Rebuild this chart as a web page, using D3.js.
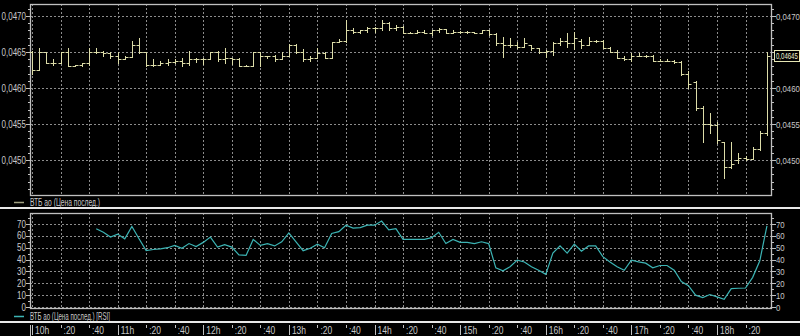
<!DOCTYPE html>
<html>
<head>
<meta charset="utf-8">
<script src="https://cdn.jsdelivr.net/npm/d3@7"></script>
<style>
  body { margin: 0; background: #000; }
  svg { display: block; }
  text { font-family: "Liberation Sans", Arial, sans-serif; font-size: 10px; fill: #c8c8c8; }
</style>
</head>
<body>
<svg id="chart" width="800" height="336"></svg>
<script>
// ---------------- Дані: 5-хвилинні бари ВТБ ----------------
const startTime = new Date(2000, 0, 1, 10, 0);
const barMinutes = 5;

const open = [
  0.04650, 0.04625, 0.04650, 0.04635, 0.04635, 0.04650, 0.04630, 0.04632, 0.04635, 0.04650,
  0.04650, 0.04648, 0.04645, 0.04640, 0.04643, 0.04660, 0.04650, 0.04632, 0.04632, 0.04635,
  0.04636, 0.04638, 0.04635, 0.04640, 0.04640, 0.04640, 0.04650, 0.04640, 0.04642, 0.04640,
  0.04631, 0.04631, 0.04650, 0.04644, 0.04644, 0.04640, 0.04645, 0.04660, 0.04650, 0.04640,
  0.04642, 0.04648, 0.04642, 0.04664, 0.04665, 0.04680, 0.04678, 0.04680, 0.04683, 0.04683,
  0.04690, 0.04683, 0.04685, 0.04677, 0.04677, 0.04678, 0.04677, 0.04680, 0.04682, 0.04677,
  0.04678, 0.04678, 0.04678, 0.04677, 0.04680, 0.04675, 0.04662, 0.04660, 0.04660, 0.04657,
  0.04660, 0.04655, 0.04650, 0.04652, 0.04662, 0.04665, 0.04662, 0.04665, 0.04660, 0.04665,
  0.04665, 0.04655, 0.04650, 0.04642, 0.04640, 0.04645, 0.04645, 0.04645, 0.04638, 0.04638,
  0.04638, 0.04636, 0.04620, 0.04608, 0.04572, 0.04550, 0.04548, 0.04525, 0.04490, 0.04500,
  0.04503, 0.04502, 0.04515, 0.04538
];
const high = [
  0.04652, 0.04655, 0.04650, 0.04640, 0.04650, 0.04655, 0.04632, 0.04635, 0.04655, 0.04655,
  0.04652, 0.04650, 0.04650, 0.04645, 0.04665, 0.04670, 0.04650, 0.04640, 0.04638, 0.04640,
  0.04640, 0.04642, 0.04652, 0.04642, 0.04642, 0.04650, 0.04652, 0.04655, 0.04642, 0.04641,
  0.04632, 0.04650, 0.04650, 0.04645, 0.04646, 0.04650, 0.04661, 0.04661, 0.04654, 0.04644,
  0.04655, 0.04650, 0.04664, 0.04668, 0.04694, 0.04683, 0.04680, 0.04685, 0.04685, 0.04694,
  0.04691, 0.04688, 0.04686, 0.04678, 0.04680, 0.04680, 0.04681, 0.04683, 0.04682, 0.04680,
  0.04679, 0.04679, 0.04678, 0.04681, 0.04681, 0.04676, 0.04671, 0.04670, 0.04664, 0.04670,
  0.04660, 0.04655, 0.04653, 0.04664, 0.04670, 0.04676, 0.04678, 0.04668, 0.04671, 0.04667,
  0.04667, 0.04657, 0.04653, 0.04644, 0.04648, 0.04648, 0.04646, 0.04646, 0.04640, 0.04640,
  0.04639, 0.04638, 0.04623, 0.04610, 0.04575, 0.04565, 0.04553, 0.04525, 0.04525, 0.04510,
  0.04505, 0.04518, 0.04540, 0.04650
];
const low = [
  0.04620, 0.04625, 0.04635, 0.04632, 0.04635, 0.04630, 0.04630, 0.04630, 0.04632, 0.04648,
  0.04645, 0.04642, 0.04635, 0.04640, 0.04643, 0.04648, 0.04630, 0.04630, 0.04632, 0.04632,
  0.04635, 0.04630, 0.04632, 0.04636, 0.04634, 0.04640, 0.04638, 0.04635, 0.04634, 0.04630,
  0.04630, 0.04630, 0.04630, 0.04642, 0.04638, 0.04640, 0.04645, 0.04648, 0.04638, 0.04637,
  0.04642, 0.04641, 0.04642, 0.04664, 0.04664, 0.04676, 0.04677, 0.04678, 0.04678, 0.04681,
  0.04681, 0.04681, 0.04676, 0.04676, 0.04676, 0.04676, 0.04674, 0.04678, 0.04676, 0.04676,
  0.04677, 0.04677, 0.04676, 0.04676, 0.04674, 0.04660, 0.04643, 0.04657, 0.04655, 0.04657,
  0.04653, 0.04649, 0.04643, 0.04646, 0.04660, 0.04657, 0.04654, 0.04655, 0.04660, 0.04664,
  0.04655, 0.04650, 0.04641, 0.04639, 0.04637, 0.04644, 0.04643, 0.04637, 0.04637, 0.04637,
  0.04635, 0.04618, 0.04600, 0.04570, 0.04525, 0.04537, 0.04524, 0.04475, 0.04489, 0.04496,
  0.04500, 0.04502, 0.04514, 0.04535
];
const close = [
  0.04625, 0.04650, 0.04635, 0.04635, 0.04650, 0.04630, 0.04632, 0.04635, 0.04650, 0.04650,
  0.04648, 0.04645, 0.04640, 0.04643, 0.04660, 0.04650, 0.04632, 0.04632, 0.04635, 0.04636,
  0.04638, 0.04635, 0.04640, 0.04640, 0.04640, 0.04650, 0.04640, 0.04642, 0.04640, 0.04631,
  0.04631, 0.04650, 0.04644, 0.04644, 0.04640, 0.04645, 0.04660, 0.04650, 0.04640, 0.04642,
  0.04648, 0.04642, 0.04664, 0.04665, 0.04680, 0.04678, 0.04680, 0.04683, 0.04683, 0.04690,
  0.04683, 0.04685, 0.04677, 0.04677, 0.04678, 0.04677, 0.04680, 0.04682, 0.04677, 0.04678,
  0.04678, 0.04678, 0.04677, 0.04680, 0.04675, 0.04662, 0.04660, 0.04660, 0.04657, 0.04662,
  0.04655, 0.04650, 0.04652, 0.04662, 0.04665, 0.04662, 0.04670, 0.04660, 0.04665, 0.04665,
  0.04655, 0.04650, 0.04642, 0.04640, 0.04645, 0.04645, 0.04645, 0.04638, 0.04638, 0.04638,
  0.04636, 0.04620, 0.04605, 0.04572, 0.04550, 0.04548, 0.04528, 0.04490, 0.04495, 0.04503,
  0.04502, 0.04515, 0.04538, 0.04645
];

// RSI (перші бари без значення)
const rsi = [
  null, null, null, null, null, null, null, null, null, 66,
  63, 59, 61.5, 57.5, 68, 57.5, 47.5, 48.5, 49, 50,
  52, 49.5, 53.5, 51, 54.5, 59, 50.5, 52.5, 50.5, 44,
  43.5, 57, 52, 53.5, 51.5, 55, 62.5, 55, 47.5, 49.5,
  53, 50, 62, 63.5, 69, 66.5, 67, 69, 69, 72.5,
  65, 66, 57, 57, 57, 57, 58.5, 63, 53.5, 57,
  54.5, 54.5, 53.5, 55, 53.5, 33, 30.5, 34, 39.5, 38,
  34, 31, 27.5, 45.5, 51.5, 45.5, 53, 47, 51.5, 51.5,
  42.5, 38, 34, 31, 39.5, 38, 37, 33, 35, 35,
  31, 21.5, 18, 10, 8, 10.5, 8.5, 6.5, 15.5, 15.8,
  16, 25, 39, 68.5
];

const priceTicks = [0.0450, 0.0455, 0.0460, 0.0465, 0.0470];
const rsiTicks = [0, 10, 20, 30, 40, 50, 60, 70];
const lastPrice = 0.04645;
const legendPrice = "ВТБ ао (Цена послед.)";
const legendRsi = "ВТБ ао (Цена послед.) [RSI]";

// ---------------- Розмітка ----------------
const svg = d3.select("#chart");
const W = 800;
const left = 30, right = 771;
const top1 = 4, bottom1 = 195;
const top2 = 213, bottom2 = 308;

const barColor = "#dcdca8";
const rsiColor = "#3cb4b4";
const gridColor = "#8c8c8c";
const frameColor = "#c0c0c0";

const bars = open.map((o, i) => ({
  t: d3.timeMinute.offset(startTime, i * barMinutes),
  o, h: high[i], l: low[i], c: close[i], r: rsi[i]
}));

const x = d3.scaleTime()
  .domain([new Date(2000, 0, 1, 10, 0), new Date(2000, 0, 1, 18, 0)])
  .range([32, 717]);
const y = d3.scaleLinear().domain([0.0450, 0.0470]).range([160, 16]);
const yR = d3.scaleLinear().domain([0, 70]).range([307, 224]);

const timeTicks = d3.timeMinute.every(20).range(startTime, new Date(2000, 0, 1, 18, 21));
const fmtPrice = v => d3.format(".4f")(v).replace(".", ",");
const px = v => Math.round(v) + 0.5;

// стискання тексту по ширині (у вихіднику вузький системний шрифт)
function squeeze(sel, k) {
  sel.each(function () {
    const w = this.getComputedTextLength();
    d3.select(this).attr("textLength", w * k).attr("lengthAdjust", "spacingAndGlyphs");
  });
}

// ---------------- Сітка ----------------
function grid(yScale, ticks, y0, y1) {
  const g = svg.append("g")
    .attr("stroke", gridColor)
    .attr("stroke-dasharray", "2,2")
    .attr("stroke-width", 1);
  g.selectAll("line.h").data(ticks).enter().append("line")
    .attr("x1", left).attr("x2", right)
    .attr("y1", d => px(yScale(d))).attr("y2", d => px(yScale(d)));
  g.selectAll("line.v").data(timeTicks).enter().append("line")
    .attr("y1", y0).attr("y2", y1)
    .attr("x1", d => px(x(d))).attr("x2", d => px(x(d)));
}
grid(y, priceTicks, top1, bottom1);
grid(yR, rsiTicks, top2, bottom2);

// Рамки
[[top1, bottom1], [top2, bottom2]].forEach(([a, b]) => {
  svg.append("rect")
    .attr("x", left + 0.5).attr("y", a + 0.5)
    .attr("width", right - left).attr("height", b - a)
    .attr("fill", "none").attr("stroke", frameColor).attr("stroke-width", 1.3);
});

// ---------------- Осі Y ----------------
function yAxes(yScale, ticks, minorStep, fmt, y0, y1, hideRight) {
  const dom = yScale.domain();
  const minor = d3.range(dom[0] - 5 * minorStep, dom[1] + 5 * minorStep, minorStep)
    .filter(v => yScale(v) > y0 + 2 && yScale(v) < y1 - 2);
  const g = svg.append("g").attr("stroke", frameColor);
  g.selectAll("line.ml").data(minor).enter().append("line")
    .attr("x1", left - 2).attr("x2", left)
    .attr("y1", d => px(yScale(d))).attr("y2", d => px(yScale(d)));
  g.selectAll("line.mr").data(minor).enter().append("line")
    .attr("x1", right + 1).attr("x2", right + 3)
    .attr("y1", d => px(yScale(d))).attr("y2", d => px(yScale(d)));
  g.selectAll("line.tl").data(ticks).enter().append("line")
    .attr("x1", left - 4).attr("x2", left)
    .attr("y1", d => px(yScale(d))).attr("y2", d => px(yScale(d)));
  g.selectAll("line.tr").data(ticks).enter().append("line")
    .attr("x1", right + 1).attr("x2", right + 5)
    .attr("y1", d => px(yScale(d))).attr("y2", d => px(yScale(d)));
  const tl = svg.append("g").selectAll("text").data(ticks).enter().append("text")
    .attr("x", left - 4).attr("y", d => yScale(d) + 3.5)
    .attr("text-anchor", "end").text(fmt);
  squeeze(tl, 0.8);
  // праві підписи: стиснуті трансформацією, щоб вміститися до краю
  svg.append("g").selectAll("text").data(ticks.filter(d => !hideRight(d))).enter().append("text")
    .attr("transform", d => `translate(${right + 5},${yScale(d) + 3.5}) scale(0.82,1)`)
    .style("font-size", "9.5px")
    .text(fmt);
}
// справа мітку 0,0465 закриває плашка останньої ціни
yAxes(y, priceTicks, 0.0001, fmtPrice, top1, bottom1, d => Math.abs(d - 0.0465) < 1e-9);
yAxes(yR, rsiTicks, 5, d => d, top2, bottom2, () => false);

// Остання ціна
const lp = svg.append("g");
lp.append("rect")
  .attr("x", 774.5).attr("y", Math.round(y(lastPrice)) - 5.5)
  .attr("width", 25).attr("height", 11)
  .attr("fill", "#000").attr("stroke", "#e6e6b4");
lp.append("text")
  .attr("transform", `translate(776,${y(lastPrice) + 3.5}) scale(0.67,1)`)
  .style("fill", "#f0f0d0")
  .style("font-size", "9px")
  .text(d3.format(".5f")(lastPrice).replace(".", ","));

// ---------------- Бари OHLC ----------------
svg.append("g")
  .attr("stroke", barColor)
  .attr("stroke-width", 1)
  .attr("fill", "none")
  .selectAll("path")
  .data(bars)
  .enter()
  .append("path")
  .attr("d", d => {
    const cx = px(x(d.t));
    return `M${cx},${Math.round(y(d.h))}V${Math.round(y(d.l)) + 1}` +
      `M${cx - 3},${px(y(d.o))}H${cx}` +
      `M${cx},${px(y(d.c))}H${cx + 3}`;
  });

// ---------------- RSI ----------------
svg.append("path")
  .datum(bars.filter(d => d.r != null))
  .attr("fill", "none")
  .attr("stroke", rsiColor)
  .attr("stroke-width", 1.2)
  .attr("d", d3.line().x(d => x(d.t)).y(d => yR(d.r)));

// ---------------- Легенди ----------------
function legend(yPos, color, label, width) {
  svg.append("line")
    .attr("x1", 14).attr("x2", 24).attr("y1", yPos + 0.5).attr("y2", yPos + 0.5)
    .attr("stroke", color).attr("stroke-width", 1.5);
  svg.append("text").attr("x", 30).attr("y", yPos + 4)
    .attr("textLength", width).attr("lengthAdjust", "spacingAndGlyphs")
    .text(label);
}
legend(202, "#a0a080", legendPrice, 70);
legend(316, rsiColor, legendRsi, 80);

// Розділювачі панелей
svg.append("rect").attr("x", 0).attr("y", 207).attr("width", W).attr("height", 2).attr("fill", "#e8e8e8");
svg.append("rect").attr("x", 0).attr("y", 321).attr("width", W).attr("height", 2).attr("fill", "#e8e8e8");

// ---------------- Вісь часу ----------------
const ta = svg.append("g");
ta.append("line").attr("x1", left + 0.5).attr("x2", left + 0.5).attr("y1", 325).attr("y2", 336)
  .attr("stroke", frameColor);
ta.selectAll("line.t").data(timeTicks).enter().append("line")
  .attr("x1", d => px(x(d))).attr("x2", d => px(x(d)))
  .attr("y1", 325)
  .attr("y2", d => d.getMinutes() === 0 ? 335 : 328)
  .attr("stroke", frameColor);
const tt = ta.selectAll("text").data(timeTicks).enter().append("text")
  .attr("x", d => x(d) + 3).attr("y", 333.5)
  .text(d => d.getMinutes() === 0 ? d.getHours() + "h" : ":" + d3.format("02")(d.getMinutes()));
squeeze(tt, 0.85);
</script>
</body>
</html>
